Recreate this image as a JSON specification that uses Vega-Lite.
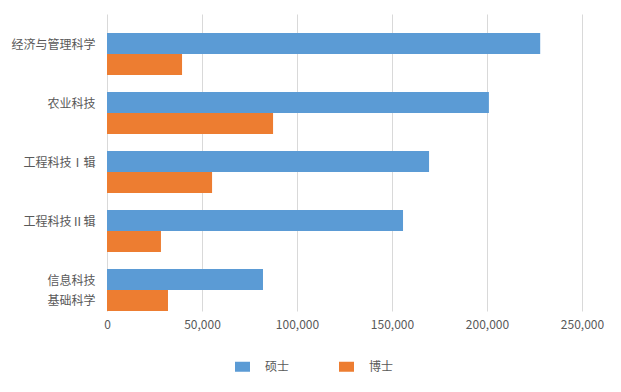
{
  "$schema": "https://vega.github.io/schema/vega-lite/v6.json",
  "width": 475,
  "height": 297,
  "autosize": {"type": "none"},
  "padding": {"left": 107, "top": 14, "right": 39, "bottom": 81},
  "background": "#ffffff",
  "config": {
    "font": "Noto Sans CJK SC",
    "view": {"stroke": null}
  },
  "data": {
    "values": [
      {"category": "经济与管理科学", "type": "硕士", "value": 228000},
      {"category": "经济与管理科学", "type": "博士", "value": 39500},
      {"category": "农业科技", "type": "硕士", "value": 201000},
      {"category": "农业科技", "type": "博士", "value": 87400},
      {"category": "工程科技Ⅰ辑", "type": "硕士", "value": 169500},
      {"category": "工程科技Ⅰ辑", "type": "博士", "value": 55300},
      {"category": "工程科技Ⅱ辑", "type": "硕士", "value": 155800},
      {"category": "工程科技Ⅱ辑", "type": "博士", "value": 28400},
      {"category": "信息科技|基础科学", "type": "硕士", "value": 82100},
      {"category": "信息科技|基础科学", "type": "博士", "value": 32100}
    ]
  },
  "mark": {"type": "bar"},
  "encoding": {
    "y": {
      "field": "category",
      "type": "nominal",
      "sort": null,
      "scale": {"paddingInner": 0.288, "paddingOuter": 0.161, "align": 1},
      "axis": {
        "title": null,
        "domain": false,
        "ticks": false,
        "labelPadding": 12,
        "labelFontSize": 12,
        "labelColor": "#595959",
        "labelLineHeight": 20,
        "labelOffset": -9,
        "labelExpr": "split(datum.label, '|')"
      }
    },
    "yOffset": {
      "field": "type",
      "type": "nominal",
      "sort": ["硕士", "博士"],
      "scale": {"paddingInner": 0, "paddingOuter": 0}
    },
    "x": {
      "field": "value",
      "type": "quantitative",
      "scale": {"domain": [0, 250000], "nice": false},
      "axis": {
        "title": null,
        "domain": false,
        "ticks": false,
        "values": [0, 50000, 100000, 150000, 200000, 250000],
        "format": ",.0f",
        "labelFlush": false,
        "labelPadding": 8,
        "labelFontSize": 12,
        "labelColor": "#595959",
        "gridColor": "#d9d9d9",
        "gridWidth": 1
      }
    },
    "color": {
      "field": "type",
      "type": "nominal",
      "sort": ["硕士", "博士"],
      "scale": {"domain": ["硕士", "博士"], "range": ["#5b9bd5", "#ed7d31"]},
      "legend": {
        "title": null,
        "orient": "none",
        "direction": "horizontal",
        "legendX": 128,
        "legendY": 345,
        "symbolType": "M-1,-0.667H1V0.667H-1Z",
        "symbolSize": 225,
        "symbolStrokeWidth": 0,
        "labelFontSize": 12,
        "labelColor": "#595959",
        "labelOffset": 15,
        "columnPadding": 49
      }
    }
  }
}
